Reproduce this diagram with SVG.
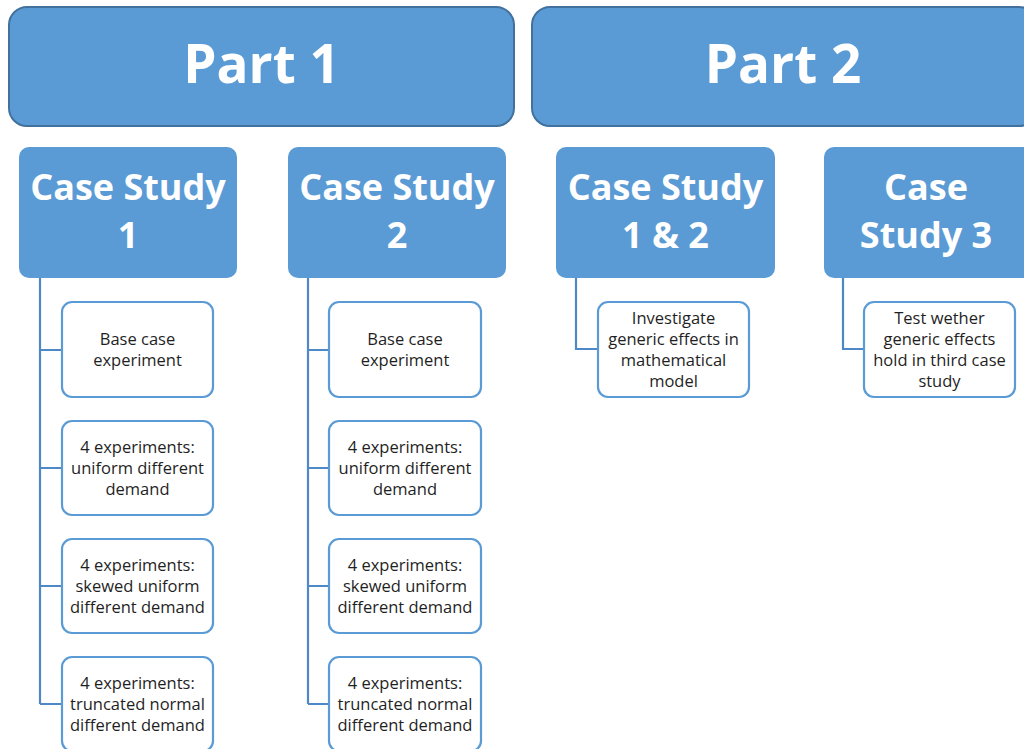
<svg xmlns="http://www.w3.org/2000/svg" width="1024" height="749" viewBox="0 0 1024 749">
<style>
.part{fill:#5B9BD5;stroke:#41719C;stroke-width:2}
.cs{fill:#5B9BD5}
.leaf{fill:#fff;stroke:#5B9BD5;stroke-width:2.2}
.conn{fill:none;stroke:#4F88C6;stroke-width:2.2}
.t1{font-family:"Open Sans","Liberation Sans",sans-serif;font-weight:bold;font-size:53px;fill:#fff;text-anchor:middle}
.t2{font-family:"Open Sans","Liberation Sans",sans-serif;font-weight:bold;font-size:36px;fill:#fff;text-anchor:middle}
.t3{font-family:"Open Sans","Liberation Sans",sans-serif;font-size:16.5px;fill:#1f1f1f;text-anchor:middle}
</style>
<rect width="1024" height="749" fill="#fff"/>
<g id="connectors">
<path class="conn" d="M40 278V704M40 350H62M40 468H62M40 586H62M40 704H62"/>
<path class="conn" d="M308 278V704M308 350H329M308 468H329M308 586H329M308 704H329"/>
<path class="conn" d="M576 278V349H598"/>
<path class="conn" d="M843 278V349H864"/>
</g>
<g id="part1"><rect class="part" x="9" y="7" width="505" height="119" rx="18"/><text class="t1" x="261.5" y="83">Part 1</text></g>
<g id="part2"><rect class="part" x="532" y="7" width="505" height="119" rx="18"/><text class="t1" x="783" y="83">Part 2</text></g>
<g id="cs1"><rect class="cs" x="19" y="147" width="218" height="131" rx="10"/><text class="t2" x="128" y="200">Case Study</text><text class="t2" x="128" y="248">1</text></g>
<g id="cs2"><rect class="cs" x="288" y="147" width="218" height="131" rx="10"/><text class="t2" x="397" y="200">Case Study</text><text class="t2" x="397" y="248">2</text></g>
<g id="cs12"><rect class="cs" x="556" y="147" width="219" height="131" rx="10"/><text class="t2" x="665.5" y="200">Case Study</text><text class="t2" x="665.5" y="248">1 &amp; 2</text></g>
<g id="cs3"><rect class="cs" x="824" y="147" width="218" height="131" rx="10"/><text class="t2" x="926" y="200">Case</text><text class="t2" x="926" y="248">Study 3</text></g>
<g id="a1"><rect class="leaf" x="62" y="302" width="151" height="95" rx="10"/><text class="t3" x="137.5" y="345">Base case</text><text class="t3" x="137.5" y="366">experiment</text></g>
<g id="a2"><rect class="leaf" x="62" y="421" width="151" height="94" rx="10"/><text class="t3" x="137.5" y="452.5">4 experiments:</text><text class="t3" x="137.5" y="473.5">uniform different</text><text class="t3" x="137.5" y="494.5">demand</text></g>
<g id="a3"><rect class="leaf" x="62" y="539" width="151" height="94" rx="10"/><text class="t3" x="137.5" y="570.5">4 experiments:</text><text class="t3" x="137.5" y="591.5">skewed uniform</text><text class="t3" x="137.5" y="612.5">different demand</text></g>
<g id="a4"><rect class="leaf" x="62" y="657" width="151" height="94" rx="10"/><text class="t3" x="137.5" y="688.5">4 experiments:</text><text class="t3" x="137.5" y="709.5">truncated normal</text><text class="t3" x="137.5" y="730.5">different demand</text></g>
<g id="b1"><rect class="leaf" x="329" y="302" width="152" height="95" rx="10"/><text class="t3" x="405" y="345">Base case</text><text class="t3" x="405" y="366">experiment</text></g>
<g id="b2"><rect class="leaf" x="329" y="421" width="152" height="94" rx="10"/><text class="t3" x="405" y="452.5">4 experiments:</text><text class="t3" x="405" y="473.5">uniform different</text><text class="t3" x="405" y="494.5">demand</text></g>
<g id="b3"><rect class="leaf" x="329" y="539" width="152" height="94" rx="10"/><text class="t3" x="405" y="570.5">4 experiments:</text><text class="t3" x="405" y="591.5">skewed uniform</text><text class="t3" x="405" y="612.5">different demand</text></g>
<g id="b4"><rect class="leaf" x="329" y="657" width="152" height="94" rx="10"/><text class="t3" x="405" y="688.5">4 experiments:</text><text class="t3" x="405" y="709.5">truncated normal</text><text class="t3" x="405" y="730.5">different demand</text></g>
<g id="c1"><rect class="leaf" x="598" y="302" width="151" height="95" rx="10"/><text class="t3" x="673.5" y="323.5">Investigate</text><text class="t3" x="673.5" y="344.5">generic effects in</text><text class="t3" x="673.5" y="365.5">mathematical</text><text class="t3" x="673.5" y="386.5">model</text></g>
<g id="d1"><rect class="leaf" x="864" y="302" width="151" height="95" rx="10"/><text class="t3" x="939.5" y="323.5">Test wether</text><text class="t3" x="939.5" y="344.5">generic effects</text><text class="t3" x="939.5" y="365.5">hold in third case</text><text class="t3" x="939.5" y="386.5">study</text></g>
</svg>
